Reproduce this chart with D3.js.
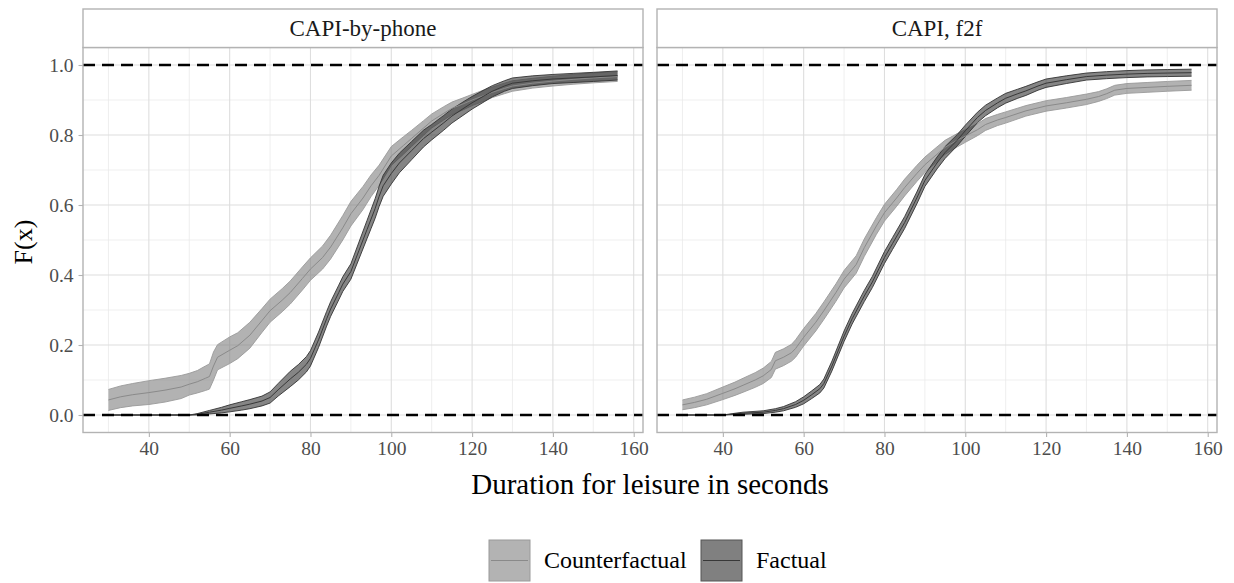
<!DOCTYPE html>
<html lang="en">
<head>
<meta charset="UTF-8">
<title>ECDF duration for leisure</title>
<script src="https://cdn.jsdelivr.net/npm/d3@7"></script>
<style>
body { margin: 0; background: #fff; }
svg text { font-family: "Liberation Serif", "DejaVu Serif", serif; }
</style>
</head>
<body>
<svg id="chart" width="1234" height="583"></svg>
<script>
// panels, groups and ticks
var panels = ["CAPI-by-phone", "CAPI, f2f"];
var groups = ["Counterfactual", "Factual"];
var xTicks = [40, 60, 80, 100, 120, 140, 160];
var xMinor = [30, 50, 70, 90, 110, 130, 150];
var yTicks = [0, 0.2, 0.4, 0.6, 0.8, 1.0];
var yMinor = [0.1, 0.3, 0.5, 0.7, 0.9];
var refLines = [0, 1];

// CAPI-by-phone, counterfactual
var phoneCfX   = [30, 33, 36, 40, 44, 48, 50, 52, 54, 55, 56, 57, 60, 62, 65, 68, 70, 73, 75, 78, 80, 83, 85, 88, 90, 93, 95, 97, 100, 103, 105, 108, 110, 113, 115, 118, 120, 123, 125, 128, 130, 135, 140, 145, 150, 156];
var phoneCfMid = [.043, .052, .058, .064, .071, .080, .088, .095, .105, .110, .140, .165, .185, .198, .228, .270, .298, .328, .350, .390, .417, .450, .480, .535, .575, .620, .655, .685, .740, .770, .790, .820, .840, .862, .876, .890, .900, .913, .922, .933, .940, .948, .954, .959, .963, .967];
var phoneCfLo  = [.013, .021, .026, .030, .037, .047, .057, .063, .070, .074, .100, .129, .147, .161, .191, .236, .265, .295, .317, .357, .385, .417, .446, .500, .540, .587, .624, .656, .713, .745, .767, .799, .820, .843, .858, .873, .884, .897, .907, .918, .925, .934, .940, .945, .949, .953];
var phoneCfHi  = [.073, .083, .090, .098, .105, .113, .119, .127, .140, .146, .180, .201, .223, .235, .265, .304, .331, .361, .383, .423, .449, .483, .514, .570, .610, .653, .686, .714, .767, .795, .813, .841, .860, .881, .894, .907, .916, .929, .937, .948, .955, .962, .968, .973, .977, .981];

// CAPI-by-phone, factual
var phoneFX   = [30, 40, 50, 52, 55, 58, 60, 63, 65, 68, 70, 72, 75, 77, 79, 80, 82, 84, 85, 87, 88, 90, 92, 94, 95, 96, 97, 98, 100, 102, 105, 108, 110, 113, 115, 118, 120, 123, 125, 128, 130, 135, 140, 145, 150, 156];
var phoneFMid = [0, 0, 0, .002, .008, .014, .019, .026, .031, .040, .050, .072, .103, .122, .145, .162, .215, .275, .303, .350, .374, .410, .470, .530, .560, .590, .625, .655, .690, .720, .755, .790, .808, .835, .854, .877, .892, .912, .925, .940, .948, .955, .960, .963, .966, .970];
var phoneFLo  = [0, 0, 0, 0, .003, .006, .009, .014, .018, .026, .034, .054, .081, .100, .123, .140, .193, .254, .282, .329, .353, .388, .446, .504, .533, .562, .596, .625, .660, .692, .729, .766, .786, .814, .834, .858, .874, .895, .909, .925, .933, .941, .947, .950, .953, .957];
var phoneFHi  = [0, 0, 0, .004, .013, .022, .029, .038, .044, .054, .066, .090, .125, .144, .167, .184, .237, .296, .324, .371, .395, .432, .494, .556, .587, .618, .654, .685, .720, .748, .781, .814, .830, .856, .874, .896, .910, .929, .941, .955, .963, .969, .973, .976, .979, .983];

// CAPI f2f, counterfactual
var f2fCfX   = [30, 33, 36, 40, 43, 45, 48, 50, 52, 53, 55, 57, 58, 60, 63, 65, 68, 70, 73, 75, 78, 80, 83, 85, 88, 90, 93, 95, 98, 100, 103, 105, 108, 110, 115, 120, 125, 130, 133, 135, 137, 140, 145, 150, 156];
var f2fCfMid = [.029, .036, .045, .062, .075, .085, .100, .112, .130, .155, .165, .178, .190, .222, .265, .298, .350, .388, .430, .478, .540, .578, .620, .650, .690, .715, .745, .765, .785, .797, .815, .830, .843, .850, .869, .883, .892, .902, .910, .918, .928, .933, .936, .939, .942];
var f2fCfLo  = [.015, .021, .029, .044, .056, .065, .079, .090, .107, .131, .141, .154, .165, .197, .240, .273, .325, .363, .405, .453, .516, .554, .596, .626, .667, .693, .724, .745, .766, .779, .798, .813, .827, .834, .854, .868, .877, .887, .896, .904, .914, .919, .922, .925, .928];
var f2fCfHi  = [.043, .051, .061, .080, .094, .105, .121, .134, .153, .179, .189, .202, .215, .247, .290, .323, .375, .413, .455, .503, .564, .602, .644, .674, .713, .737, .766, .785, .804, .815, .832, .847, .859, .866, .884, .898, .907, .917, .924, .932, .942, .947, .950, .953, .956];

// CAPI f2f, factual
var f2fFX   = [30, 40, 43, 45, 50, 53, 55, 58, 60, 62, 64, 65, 67, 70, 72, 75, 77, 80, 82, 85, 88, 90, 93, 95, 98, 100, 103, 105, 108, 110, 113, 115, 118, 120, 125, 130, 135, 140, 145, 150, 156];
var f2fFMid = [0, 0, .003, .005, .008, .013, .018, .030, .042, .058, .075, .090, .140, .225, .275, .340, .380, .450, .490, .550, .620, .670, .720, .750, .785, .812, .850, .870, .892, .905, .918, .926, .940, .948, .958, .967, .971, .974, .976, .977, .978];
var f2fFLo  = [0, 0, .001, .002, .004, .008, .012, .022, .032, .047, .063, .077, .126, .210, .260, .324, .364, .433, .473, .533, .603, .653, .703, .733, .769, .796, .835, .855, .878, .891, .905, .913, .928, .936, .947, .957, .961, .964, .966, .967, .968];
var f2fFHi  = [0, 0, .005, .008, .012, .018, .024, .038, .052, .069, .087, .103, .154, .240, .290, .356, .396, .467, .507, .567, .637, .687, .737, .767, .801, .828, .865, .885, .906, .919, .931, .939, .952, .960, .969, .977, .981, .984, .986, .987, .988];

function rows(xs, mid, lo, hi) {
  return xs.map(function(x, i) { return { x: x, mid: mid[i], lo: lo[i], hi: hi[i] }; });
}

var panelData = [
  [rows(phoneCfX, phoneCfMid, phoneCfLo, phoneCfHi), rows(phoneFX, phoneFMid, phoneFLo, phoneFHi)],
  [rows(f2fCfX, f2fCfMid, f2fCfLo, f2fCfHi), rows(f2fFX, f2fFMid, f2fFLo, f2fFHi)]
];

// look of the two groups
var style = {
  Counterfactual: { fill: "#7f7f7f", opacity: 0.6, edge: "#9a9a9a", line: "#8a8a8a", keyFill: "#b3b3b3", keyEdge: "#9a9a9a" },
  Factual:        { fill: "#333333", opacity: 0.6, edge: "#333333", line: "#383838", keyFill: "#808080", keyEdge: "#555555" }
};

var svg = d3.select("#chart");
var panelLeft = [83, 657];
var pw = 560, ph = 385, plotTop = 47.5, stripH = 38.5;

var x = d3.scaleLinear().domain([23.7, 162.3]).range([0, pw]);
var y = d3.scaleLinear().domain([-0.05, 1.05]).range([ph, 0]);

panels.forEach(function(name, p) {
  var g = svg.append("g").attr("transform", "translate(" + panelLeft[p] + "," + plotTop + ")");

  // grid
  g.selectAll(".xminor").data(xMinor).enter().append("line")
    .attr("x1", x).attr("x2", x).attr("y1", 0).attr("y2", ph)
    .attr("stroke", "#ebebeb").attr("stroke-width", 0.8);
  g.selectAll(".yminor").data(yMinor).enter().append("line")
    .attr("y1", y).attr("y2", y).attr("x1", 0).attr("x2", pw)
    .attr("stroke", "#ebebeb").attr("stroke-width", 0.8);
  g.selectAll(".xmajor").data(xTicks).enter().append("line")
    .attr("x1", x).attr("x2", x).attr("y1", 0).attr("y2", ph)
    .attr("stroke", "#dedede").attr("stroke-width", 1.1);
  g.selectAll(".ymajor").data(yTicks).enter().append("line")
    .attr("y1", y).attr("y2", y).attr("x1", 0).attr("x2", pw)
    .attr("stroke", "#dedede").attr("stroke-width", 1.1);

  var area = d3.area().x(function(d) { return x(d.x); })
    .y0(function(d) { return y(d.lo); }).y1(function(d) { return y(d.hi); });
  function line(key) {
    return d3.line().x(function(d) { return x(d.x); }).y(function(d) { return y(d[key]); });
  }

  // ribbons
  groups.forEach(function(gr, k) {
    var s = style[gr], d = panelData[p][k];
    g.append("path").datum(d).attr("d", area)
      .attr("fill", s.fill).attr("fill-opacity", s.opacity);
    ["lo", "hi"].forEach(function(key) {
      g.append("path").datum(d).attr("d", line(key))
        .attr("fill", "none").attr("stroke", s.edge).attr("stroke-width", 0.9);
    });
  });
  // centre lines
  groups.forEach(function(gr, k) {
    g.append("path").datum(panelData[p][k]).attr("d", line("mid"))
      .attr("fill", "none").attr("stroke", style[gr].line).attr("stroke-width", 1);
  });

  // dashed reference lines at 0 and 1
  g.selectAll(".ref").data(refLines).enter().append("line")
    .attr("x1", 0).attr("x2", pw).attr("y1", y).attr("y2", y)
    .attr("stroke", "#000").attr("stroke-width", 2.3).attr("stroke-dasharray", "12,7");

  // panel border
  g.append("rect").attr("x", 0).attr("y", 0).attr("width", pw).attr("height", ph)
    .attr("fill", "none").attr("stroke", "#b3b3b3").attr("stroke-width", 1.4);

  // strip
  g.append("rect").attr("x", 0).attr("y", -stripH).attr("width", pw).attr("height", stripH)
    .attr("fill", "#fff").attr("stroke", "#b3b3b3").attr("stroke-width", 1.4);
  g.append("text").attr("x", pw / 2).attr("y", -stripH / 2).attr("dy", "0.35em")
    .attr("text-anchor", "middle").attr("font-size", 23).attr("fill", "#1a1a1a").text(name);

  // x axis
  var xa = g.append("g").attr("transform", "translate(0," + ph + ")")
    .call(d3.axisBottom(x).tickValues(xTicks).tickSize(4.5).tickPadding(4));
  xa.select(".domain").remove();
  xa.selectAll("line").attr("stroke", "#b3b3b3").attr("stroke-width", 1.1);
  xa.selectAll("text").attr("font-size", 19.5).attr("fill", "#4d4d4d")
    .style("font-family", "'Liberation Serif', serif");

  if (p === 0) {
    var ya = g.append("g").call(d3.axisLeft(y).tickValues(yTicks).tickFormat(d3.format(".1f")).tickSize(4.5).tickPadding(5));
    ya.select(".domain").remove();
    ya.selectAll("line").attr("stroke", "#b3b3b3").attr("stroke-width", 1.1);
    ya.selectAll("text").attr("font-size", 19.5).attr("fill", "#4d4d4d")
      .style("font-family", "'Liberation Serif', serif");
  }
});

// axis titles
svg.append("text").attr("x", 650).attr("y", 494).attr("text-anchor", "middle")
  .attr("font-size", 29).attr("fill", "#000").text("Duration for leisure in seconds");
svg.append("text").attr("transform", "translate(32,242) rotate(-90)").attr("text-anchor", "middle")
  .attr("font-size", 26).attr("fill", "#000").text("F(x)");

// legend
var legend = svg.append("g");
var keyX = [489, 701], textX = [544, 756], keyY = 540, keyS = 41;
groups.forEach(function(gr, k) {
  var s = style[gr];
  legend.append("rect").attr("x", keyX[k]).attr("y", keyY).attr("width", keyS).attr("height", keyS)
    .attr("fill", s.keyFill).attr("stroke", s.keyEdge).attr("stroke-width", 1);
  legend.append("line").attr("x1", keyX[k] + 2).attr("x2", keyX[k] + keyS - 2)
    .attr("y1", keyY + keyS / 2).attr("y2", keyY + keyS / 2)
    .attr("stroke", s.line).attr("stroke-width", 1.2);
  legend.append("text").attr("x", textX[k]).attr("y", 568)
    .attr("font-size", 24).attr("fill", "#000").text(gr);
});
</script>
</body>
</html>
